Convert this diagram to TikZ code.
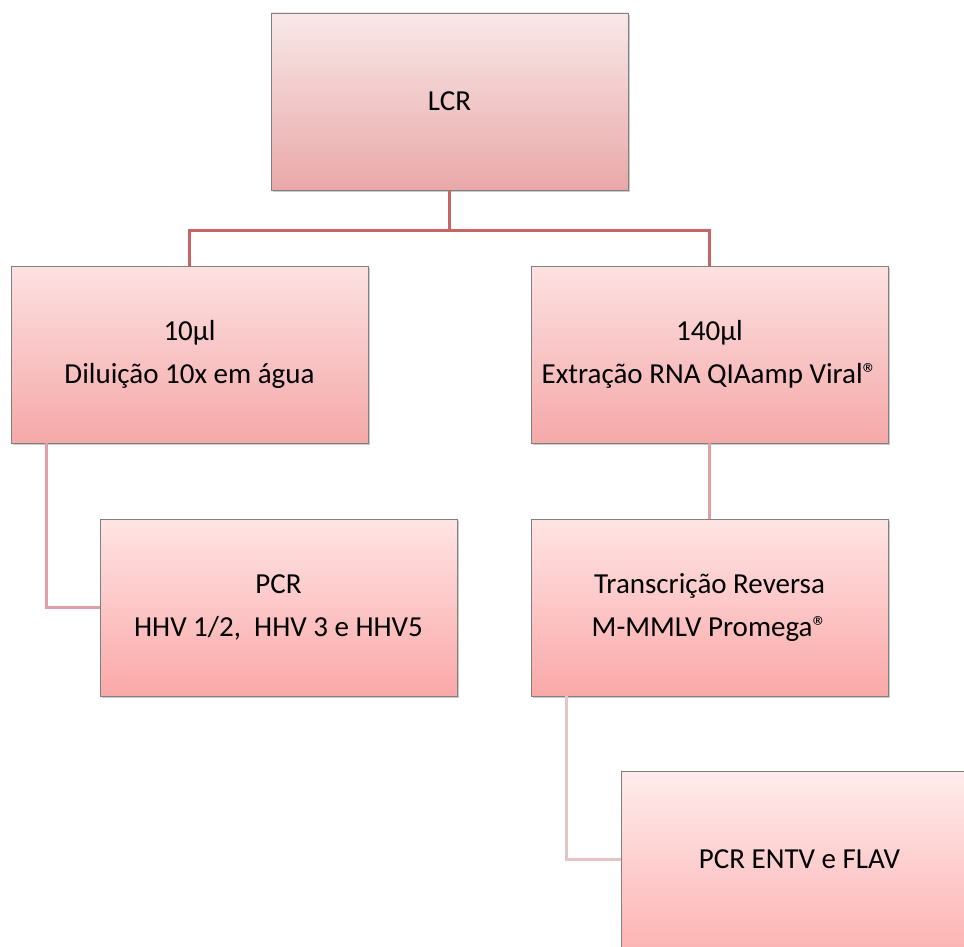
\documentclass[tikz,border=0pt]{standalone}
\usepackage{fontspec}
\setmainfont{Carlito}
\usetikzlibrary{shadows}
\definecolor{lineA}{RGB}{200,100,100}
\definecolor{lineB}{RGB}{222,160,165}
\definecolor{lineC}{RGB}{232,195,198}
\tikzset{
  box/.style={draw=black!50, line width=0.8pt, minimum width=357pt, minimum height=177pt,
    align=center, inner sep=0pt, font=\fontsize{29}{43}\selectfont,
    drop shadow={shadow xshift=1.5pt, shadow yshift=-2pt, opacity=0.35, fill=black!60}},
  boxA/.style={box, top color={rgb,255:red,248;green,232;blue,232}, bottom color={rgb,255:red,233;green,168;blue,168}},
  boxB/.style={box, top color={rgb,255:red,252;green,225;blue,225}, bottom color={rgb,255:red,245;green,168;blue,168}},
  boxC/.style={box, top color={rgb,255:red,255;green,228;blue,228}, bottom color={rgb,255:red,250;green,168;blue,168}},
  boxD/.style={box, top color={rgb,255:red,255;green,236;blue,236}, bottom color={rgb,255:red,252;green,180;blue,180}},
  conn/.style={line width=3pt},
}
\begin{document}
\begin{tikzpicture}[x=1pt,y=-1pt]
\useasboundingbox (0,0) rectangle (964,947);
\clip (0,0) rectangle (964,947);
\node[boxA] (lcr) at (449.5,101.5) {LCR};
\node[boxB] (dil) at (189.5,354.5) {10µl\\Diluição 10x em água};
\node[boxB] (ext) at (709.5,354.5) {140µl\\Extração RNA QIAamp Viral®};
\node[boxC] (pcr) at (278.5,607.5) {PCR\\HHV 1/2,\ \ HHV 3 e HHV5};
\node[boxC] (tr) at (709.5,607.5) {Transcrição Reversa\\M-MMLV Promega®};
\node[boxD] (entv) at (799.5,859.5) {PCR ENTV e FLAV};
\coordinate (jn) at (449.5,230);
\draw[conn, lineA] (lcr.south) -- (jn) -| (dil.north);
\draw[conn, lineA] (jn) -| (ext.north);
\draw[conn, lineB] ([xshift=36pt]dil.south west) |- (pcr.west);
\draw[conn, lineB] (ext.south) -- (tr.north);
\draw[conn, lineC] ([xshift=36pt]tr.south west) |- (entv.west);
\end{tikzpicture}
\end{document}
